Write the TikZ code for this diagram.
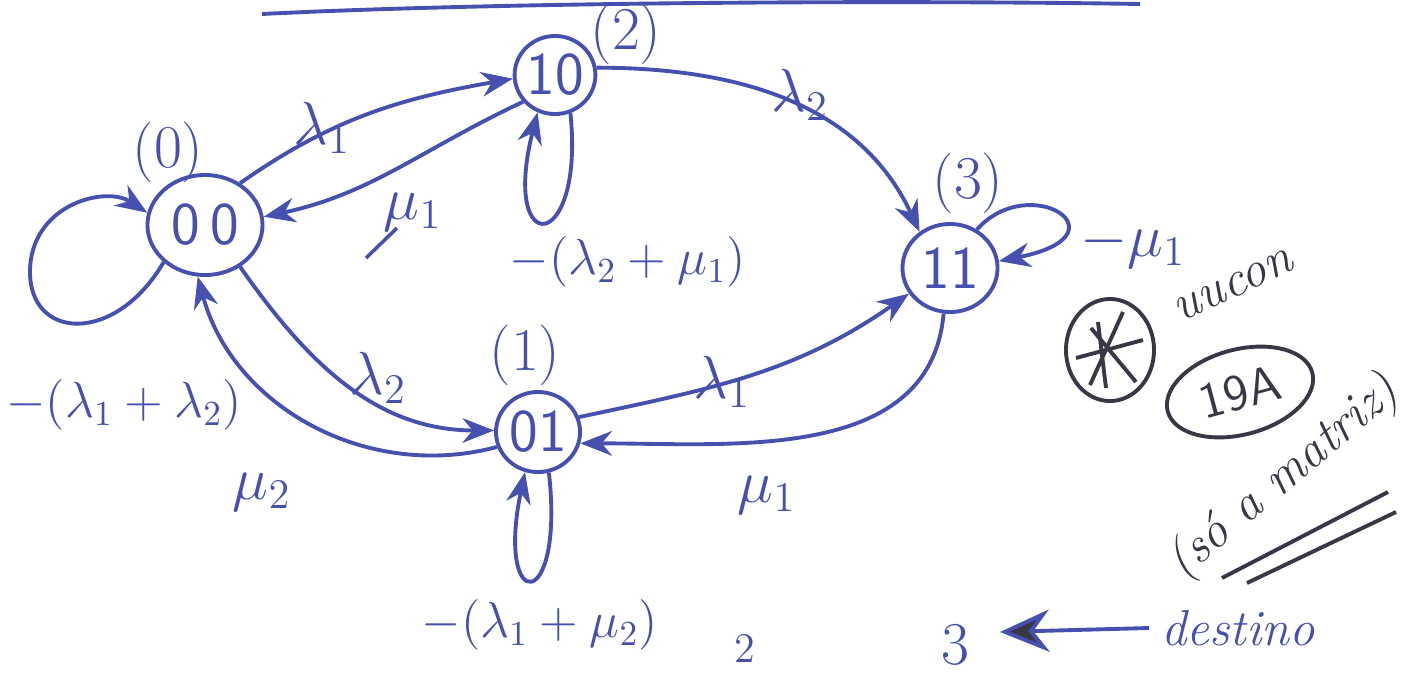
\documentclass[tikz,border=0pt]{standalone}
\usepackage{amsmath,amssymb}
\usetikzlibrary{arrows.meta,shapes.geometric,positioning}
\definecolor{ink}{RGB}{70,80,175}
\definecolor{pencil}{RGB}{55,55,70}
\tikzset{
  etat/.style={draw=ink,ellipse,inner sep=0pt,text=ink,font=\LARGE\sffamily,line width=1.1pt},
  fleche/.style={draw=ink,line width=1.1pt,-{Stealth[length=9pt,width=7pt]}},
  taux/.style={text=ink,font=\LARGE},
  somme/.style={text=ink,font=\Large},
  numero/.style={text=ink,font=\LARGE},
}
\begin{document}
\begin{tikzpicture}[x=0.01cm,y=-0.01cm]
    \useasboundingbox (0,0) rectangle (1409,675);
    % Trait du haut
    \draw[ink,line width=1.1pt] (262,14) .. controls (500,2) and (900,0) .. (1140,4);
    % Les états
    \node[etat,minimum width=1.15cm,minimum height=1.0cm] (s00) at (205,225) {0\,0};
    \node[etat,minimum width=0.8cm,minimum height=0.78cm] (s10) at (555,75) {10};
    \node[etat,minimum width=0.95cm,minimum height=0.88cm] (s11) at (950,268) {11};
    \node[etat,minimum width=0.84cm,minimum height=0.8cm] (s01) at (538,432) {01};
    % Numéros des états
    \node[numero] (n0) at (168,152) {(0)};
    \node[numero] (n2) at (626,34) {(2)};
    \node[numero] (n3) at (968,183) {(3)};
    \node[numero] (n1) at (525,355) {(1)};
    % Transitions
    \draw[fleche] (s00.50) to[out=35,in=190] (s10.185);
    \draw[fleche] (s10.220) to[out=205,in=12] (s00.8);
    \draw[fleche] (s10.10) to[out=0,in=115] (s11.130);
    \draw[fleche] (s00.310) to[out=-55,in=180] (s01.178);
    \draw[fleche] (s01.200) to[out=195,in=-75] (s00.262);
    \draw[fleche] (s01.20) to[out=12,in=215] (s11.212);
    \draw[fleche] (s11.262) to[out=-95,in=0] (s01.345);
    % Boucles
    \draw[fleche] (s00.222) .. controls (115,345) and (30,340) .. (30,272) .. controls (30,205) and (105,185) .. (s00.168);
    \draw[fleche] (s10.292) .. controls (585,255) and (500,260) .. (s10.245);
    \draw[fleche] (s01.285) .. controls (565,615) and (495,615) .. (s01.252);
    \draw[fleche] (s11.55) .. controls (1030,170) and (1130,235) .. (s11.8);
    % Taux
    \node[taux] (l1a) at (322,128) {$\lambda_1$};
    \node[taux] (m1a) at (413,212) {$\mu_1$};
    \draw[ink,line width=1pt] (366,258) -- (397,228);
    \node[somme] (d10) at (628,262) {$-(\lambda_2+\mu_1)$};
    \node[taux] (l2a) at (800,95) {$\lambda_2$};
    \node[taux] (m1b) at (1133,245) {$-\mu_1$};
    \node[somme,anchor=west] (d00) at (-6,405) {$-(\lambda_1+\lambda_2)$};
    \node[taux] (l2b) at (378,378) {$\lambda_2$};
    \node[taux] (l1b) at (722,382) {$\lambda_1$};
    \node[taux] (m2) at (262,492) {$\mu_2$};
    \node[taux] (m1c) at (767,495) {$\mu_1$};
    \node[somme] (d01) at (540,625) {$-(\lambda_1+\mu_2)$};
    % Annotations à droite
    \node[draw=pencil,ellipse,line width=1.1pt,minimum width=0.88cm,minimum height=1.02cm] (etoile) at (1110,350) {};
    \draw[pencil,line width=1.1pt] (1090,385) -- (1123,312) (1091,328) -- (1136,382) (1076,358) -- (1143,340) (1098,322) -- (1106,388);
    \node[text=pencil,font=\Large\itshape,rotate=25,anchor=west] (usar) at (1165,318) {uucon};
    \node[draw=pencil,ellipse,line width=1.1pt,minimum width=0.85cm,minimum height=0.85cm,rotate=15,text=pencil,font=\Large\sffamily] (code) at (1240,392) {19A};
    \node[text=pencil,font=\Large\itshape,rotate=40] (matriz) at (1284,478) {(só a matriz)};
    \draw[pencil,line width=1.1pt] (1222,578) -- (1388,492) (1247,583) -- (1396,512);
    \node[text=ink,font=\Large\itshape] (destino) at (1238,628) {destino};
    \node[numero] (tres) at (955,645) {3};
    \node[numero,font=\large] (deux) at (745,648) {2};
    \draw[ink,line width=1.1pt,-{Stealth[length=14pt,width=12pt,fill=pencil]}] (destino.west) -- (1000,632);
\end{tikzpicture}
\end{document}
